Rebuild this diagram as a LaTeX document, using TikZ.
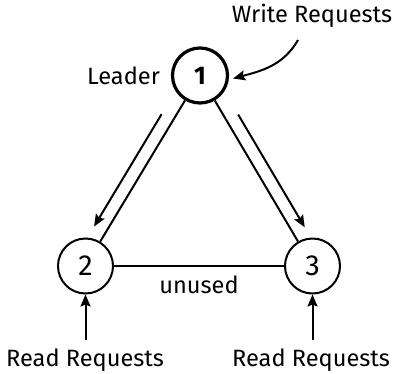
\documentclass[tikz,border=0pt]{standalone}
\usepackage{fontspec}
\setmainfont{Fira Sans}
\usetikzlibrary{calc,arrows.meta}
\begin{document}
\begin{tikzpicture}[x=1pt,y=-1pt,
  font=\fontsize{23.6}{28}\selectfont,
  line width=2pt,
  server/.style={draw,circle,minimum size=55pt,inner sep=0pt,line width=2pt,font=\fontsize{29}{34}\selectfont},
  leader/.style={server,line width=3.2pt,font=\fontsize{25.5}{30}\selectfont\bfseries},
  lbl/.style={inner sep=0pt},
  arr/.style={-{Stealth[length=12pt,width=10pt,inset=2pt]}}]
\useasboundingbox (0,0) rectangle (397,373);
\node[leader] (n1) at (200,75.5) {1};
\node[server] (n2) at (85.5,266) {2};
\node[server] (n3) at (312.5,266) {3};
\node[lbl] (lead) at (123.5,76) {Leader};
\node[lbl] (wr) at (312,16) {Write Requests};
\node[lbl] (rr2) at (85,360) {Read Requests};
\node[lbl] (rr3) at (311,360) {Read Requests};
\coordinate (ws) at (298,40);
\coordinate (r2s) at (85.5,340);
\coordinate (r3s) at (312.5,340);
\draw (n1) -- (n2);
\draw (n1) -- (n3);
\draw (n2) -- node[lbl,below=9pt] (un) {unused} (n3);
% parallel arrows
\coordinate (a1) at ($(n1)!53pt!(n2)$);
\coordinate (a2) at ($(n1)!184pt!(n2)$);
\draw[arr] ($(a1)!13pt!-90:(n2)$) -- ($(a2)!13pt!90:(n1)$);
\coordinate (b1) at ($(n1)!53pt!(n3)$);
\coordinate (b2) at ($(n1)!184pt!(n3)$);
\draw[arr] ($(b1)!13pt!90:(n3)$) -- ($(b2)!13pt!-90:(n1)$);
\draw[arr] (ws) to[out=240,in=15] ([shift={(4pt,-3pt)}]n1.east);
\draw[arr] (r2s) -- (n2);
\draw[arr] (r3s) -- (n3);
\end{tikzpicture}
\end{document}
